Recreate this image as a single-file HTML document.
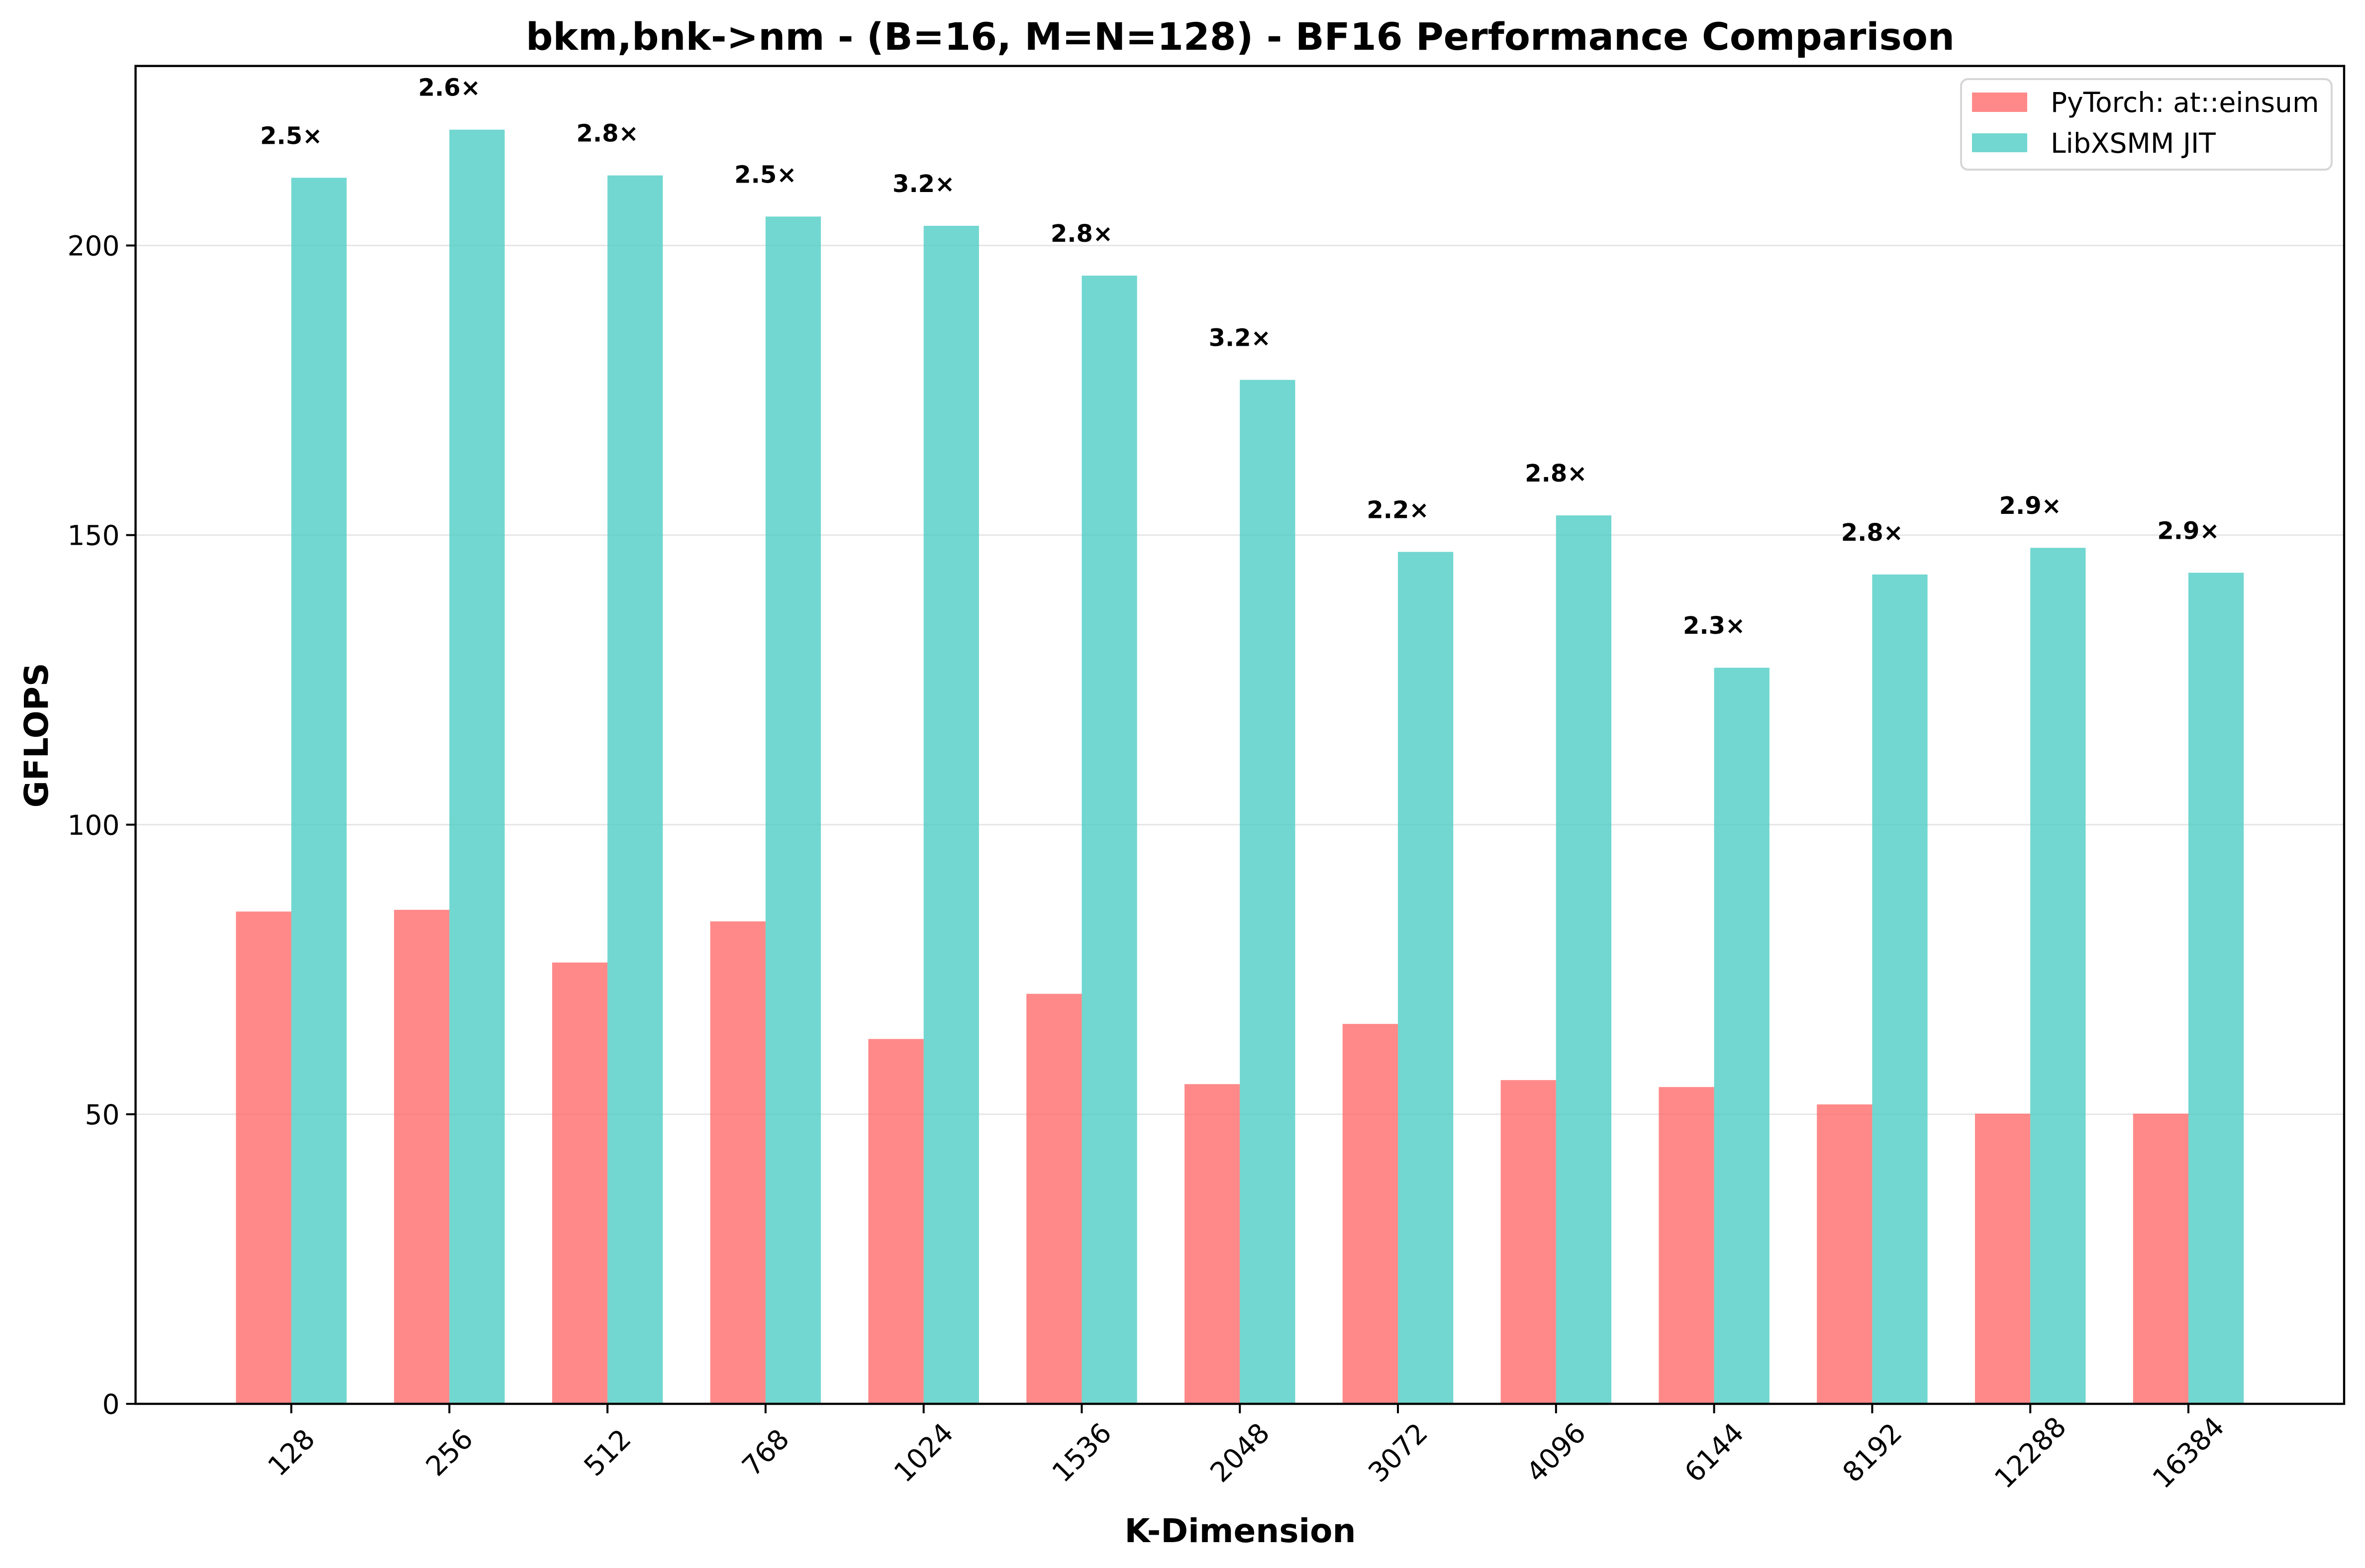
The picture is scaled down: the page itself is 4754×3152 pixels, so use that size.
<!DOCTYPE html>
<html><head><meta charset="utf-8"><style>
html,body{margin:0;padding:0;background:#fff;}
svg{display:block;font-family:"DejaVu Sans","Liberation Sans",sans-serif;}
</style></head><body>
<svg id="chart" width="4754" height="3152" viewBox="0 0 4754 3152" xmlns="http://www.w3.org/2000/svg">
<rect x="0" y="0" width="4754" height="3152" fill="#fff"/>
<text x="2493" y="100" text-anchor="middle" font-size="76" font-weight="bold">bkm,bnk-&gt;nm - (B=16, M=N=128) - BF16 Performance Comparison</text>
<g id="grid"></g>
<g id="bars"></g>
<g id="annots"></g>
<g id="axes"></g>
<text x="2493" y="3100" text-anchor="middle" font-size="66" font-weight="bold">K-Dimension</text>
<text transform="translate(96,1478) rotate(-90)" text-anchor="middle" font-size="66" font-weight="bold">GFLOPS</text>
<g>
<rect x="3942" y="159" width="745" height="182" rx="14" fill="#fff" fill-opacity="0.8" stroke="#d6d6d6" stroke-width="4"/>
<rect x="3964" y="186" width="111" height="39" fill="#FF6B6B" fill-opacity="0.8"/>
<text x="4122" y="225" font-size="55">PyTorch: at::einsum</text>
<rect x="3964" y="268" width="111" height="38" fill="#4ECDC4" fill-opacity="0.8"/>
<text x="4122" y="307" font-size="55">LibXSMM JIT</text>
</g>
</svg>
<script>
const categories = ["128","256","512","768","1024","1536","2048","3072","4096","6144","8192","12288","16384"];
const pytorchValues = [85.0,85.3,76.2,83.3,63.0,70.8,55.2,65.6,55.9,54.7,51.7,50.1,50.1];
const libxsmmValues = [211.7,220.0,212.1,205.0,203.4,194.8,176.8,147.1,153.4,127.1,143.2,147.8,143.5];
const speedupLabels = ["2.5×","2.6×","2.8×","2.5×","3.2×","2.8×","3.2×","2.2×","2.8×","2.3×","2.8×","2.9×","2.9×"];
const yTicks = [0,50,100,150,200];

const NS="http://www.w3.org/2000/svg";
const L=272.5,R=4712,T=132.6,B=2822;
const xMin=-0.985,xMax=12.985,yMax=231;
const xs=i=>L+(i-xMin)/(xMax-xMin)*(R-L);
const ys=v=>B-v/yMax*(B-T);
const bw=xs(0.35)-xs(0);
function mk(tag,attrs,parent){const e=document.createElementNS(NS,tag);for(const k in attrs)e.setAttribute(k,attrs[k]);parent.appendChild(e);return e;}
const grid=document.getElementById('grid'),bars=document.getElementById('bars'),ann=document.getElementById('annots'),axes=document.getElementById('axes');
yTicks.forEach(v=>{
  if(v>0){const g=mk('line',{x1:L,x2:R,y1:ys(v),y2:ys(v),stroke:'#e6e6e6','stroke-width':3},grid);
  
  }
  const t=mk('line',{x1:L-19,x2:L,y1:ys(v),y2:ys(v),stroke:'#000','stroke-width':4},axes);
  
  
  const lb=mk('text',{x:L-32,y:ys(v)+20,'text-anchor':'end','font-size':55},axes);
  lb.textContent=v;
  
  
});
categories.forEach((c,i)=>{
  const p=mk('rect',{x:xs(i)-bw,y:ys(pytorchValues[i]),width:bw,height:B-ys(pytorchValues[i]),fill:'#FF6B6B','fill-opacity':0.8},bars);
  
  
  const q=mk('rect',{x:xs(i),y:ys(libxsmmValues[i]),width:bw,height:B-ys(libxsmmValues[i]),fill:'#4ECDC4','fill-opacity':0.8},bars);
  
  
  const a=mk('text',{x:xs(i),y:ys(libxsmmValues[i])-68,'text-anchor':'middle','font-size':48,'font-weight':'bold'},ann);
  a.textContent=speedupLabels[i];
  
  
  const t=mk('line',{x1:xs(i),x2:xs(i),y1:B,y2:B+19,stroke:'#000','stroke-width':4},axes);
  
  
  const lb=mk('text',{transform:`translate(${xs(i)},${2920}) rotate(-45)`,'text-anchor':'middle','font-size':55,'dominant-baseline':'central'},axes);
  lb.textContent=c;
  
  
});
const fr=mk('rect',{x:L,y:T,width:R-L,height:B-T,fill:'none',stroke:'#000','stroke-width':4.4},axes);


</script>
</body></html>
